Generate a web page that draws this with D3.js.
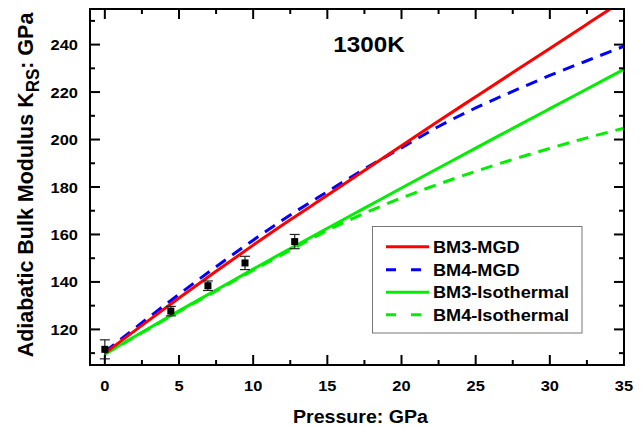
<!DOCTYPE html>
<html>
<head>
<meta charset="utf-8">
<script src="https://cdn.jsdelivr.net/npm/d3@7"></script>
<style>
  body { margin: 0; background: #fff; }
  text { font-family: Arial, "Liberation Sans", sans-serif; font-weight: bold; }
</style>
</head>
<body>
<svg id="chart" width="644" height="427"></svg>
<script>
// pressure grid (GPa) used for all model curves
const pressure = [0, 2.5, 5, 7.5, 10, 12.5, 15, 17.5, 20, 22.5, 25, 27.5, 30, 32.5, 35];
const bm3MGD = [110, 121.7, 133.2, 144.5, 155.5, 166.2, 176.5, 187, 197.4, 207.8, 218, 228.2, 238.4, 248.6, 258.8];
const bm4MGD = [110.5, 122.8, 134.8, 146.4, 157.6, 168.2, 178, 187.6, 196.5, 205.5, 213.3, 220.3, 227, 233.2, 239.3];
const bm3Iso = [109.6, 118.8, 127.8, 136.6, 145.4, 154.1, 162.6, 171.1, 179.6, 188, 196.4, 204.7, 213, 221.3, 229.6];
const bm4Iso = [109.6, 118.6, 127.5, 136.2, 144.9, 153.4, 161.7, 168.9, 175.4, 181.2, 186.6, 191.6, 196.3, 200.7, 204.8];

// measurements
const obsP = [0, 4.45, 6.95, 9.45, 12.8];
const obsK = [111.6, 127.7, 138.4, 148, 157];
const obsErr = [4, 2, 2, 2.8, 3];

const xTicks = [0, 5, 10, 15, 20, 25, 30, 35];
const xMinor = [2.5, 7.5, 12.5, 17.5, 22.5, 27.5, 32.5];
const yTicks = [120, 140, 160, 180, 200, 220, 240];
const yMinor = [110, 130, 150, 170, 190, 210, 230, 250];

const seriesNames = ["BM3-MGD", "BM4-MGD", "BM3-Isothermal", "BM4-Isothermal"];
const seriesColors = ["#ff0000", "#0000ff", "#00ee00", "#00ee00"];
const seriesDash = [null, "12,8", null, "12,8"];

const svg = d3.select("#chart");
const pLeft = 90, pRight = 624, pTop = 9, pBottom = 365;

const x = d3.scaleLinear().domain([-1, 35]).range([pLeft, pRight]);
const y = d3.scaleLinear().domain([105, 255]).range([pBottom, pTop]);

svg.append("defs").append("clipPath").attr("id", "clip")
    .append("rect")
    .attr("x", pLeft).attr("y", pTop)
    .attr("width", pRight - pLeft).attr("height", pBottom - pTop);

// stretched text helper (reference fonts are a bit wide)
function label(g, str, px, py, size, anchor, sx) {
    return g.append("text")
        .attr("transform", "translate(" + px + "," + py + ") scale(" + (sx || 1) + ",1)")
        .attr("text-anchor", anchor)
        .style("font-size", size + "px")
        .text(str);
}

// model curves
const allSeries = [bm3MGD, bm4MGD, bm3Iso, bm4Iso];
const line = d3.line()
    .x(function(d, i) { return x(pressure[i]); })
    .y(function(d) { return y(d); })
    .curve(d3.curveMonotoneX);

const curves = svg.append("g").attr("clip-path", "url(#clip)");
[3, 2, 1, 0].forEach(function(k) {
    curves.append("path")
        .attr("d", line(allSeries[k]))
        .attr("fill", "none")
        .attr("stroke", seriesColors[k])
        .attr("stroke-width", 3)
        .attr("stroke-dasharray", seriesDash[k]);
});

// measured points with error bars
const pts = svg.append("g");
obsP.forEach(function(p, i) {
    const cx = x(p);
    const y0 = y(obsK[i] - obsErr[i]), y1 = y(obsK[i] + obsErr[i]);
    pts.append("line").attr("x1", cx).attr("x2", cx).attr("y1", y0).attr("y2", y1)
        .attr("stroke", "#222").attr("stroke-width", 1.2);
    [y0, y1].forEach(function(yy) {
        pts.append("line").attr("x1", cx - 5).attr("x2", cx + 5).attr("y1", yy).attr("y2", yy)
            .attr("stroke", "#222").attr("stroke-width", 1.2);
    });
    pts.append("rect").attr("x", cx - 3.5).attr("y", y(obsK[i]) - 3.5)
        .attr("width", 7).attr("height", 7).attr("fill", "#000");
});

// axes: ticks drawn inward on all four sides
const axes = svg.append("g").attr("stroke", "#000");
function tickSet(vals, len, w) {
    vals.forEach(function(v) {
        axes.append("line").attr("x1", x(v)).attr("x2", x(v)).attr("y1", pBottom).attr("y2", pBottom - len).attr("stroke-width", w);
        axes.append("line").attr("x1", x(v)).attr("x2", x(v)).attr("y1", pTop).attr("y2", pTop + len).attr("stroke-width", w);
    });
}
function tickSetY(vals, len, w) {
    vals.forEach(function(v) {
        axes.append("line").attr("y1", y(v)).attr("y2", y(v)).attr("x1", pLeft).attr("x2", pLeft + len).attr("stroke-width", w);
        axes.append("line").attr("y1", y(v)).attr("y2", y(v)).attr("x1", pRight).attr("x2", pRight - len).attr("stroke-width", w);
    });
}
tickSet(xTicks, 10, 2);
tickSet(xMinor, 5, 2);
tickSetY(yTicks, 10, 2);
tickSetY(yMinor, 5, 2);
axes.append("rect").attr("x", pLeft).attr("y", pTop)
    .attr("width", pRight - pLeft).attr("height", pBottom - pTop)
    .attr("fill", "none").attr("stroke-width", 2);

const labels = svg.append("g");
xTicks.forEach(function(v) {
    label(labels, v, x(v), 390.5, 15.5, "middle", 1.06);
});
yTicks.forEach(function(v) {
    label(labels, v, 78, y(v) + 5.5, 15.5, "end", 1.06);
});

label(labels, "Pressure: GPa", 360.5, 422.5, 17.5, "middle", 1.12);
label(labels, "1300K", 369, 51.5, 22, "middle", 1.1);

const yt = labels.append("text")
    .attr("transform", "translate(33,185) scale(1.05,1) rotate(-90)")
    .attr("text-anchor", "middle")
    .style("font-size", "21.5px");
yt.append("tspan").text("Adiabatic Bulk Modulus K");
yt.append("tspan").attr("dy", 6).style("font-size", "17px").text("RS");
yt.append("tspan").attr("dy", -6).text(": GPa");

// legend
const lg = svg.append("g");
lg.append("rect").attr("x", 372.5).attr("y", 226.5).attr("width", 209.5).attr("height", 106.5)
    .attr("fill", "#fff").attr("stroke", "#777").attr("stroke-width", 1);
const rowY = [246.7, 269.7, 292.3, 314.7];
seriesNames.forEach(function(name, k) {
    lg.append("line").attr("x1", 386).attr("x2", 429).attr("y1", rowY[k]).attr("y2", rowY[k])
        .attr("stroke", seriesColors[k]).attr("stroke-width", 3)
        .attr("stroke-dasharray", seriesDash[k] ? "10,15" : null);
    label(lg, name, 433, rowY[k] + 6, 16.5, "start", 1.1);
});
</script>
</body>
</html>
